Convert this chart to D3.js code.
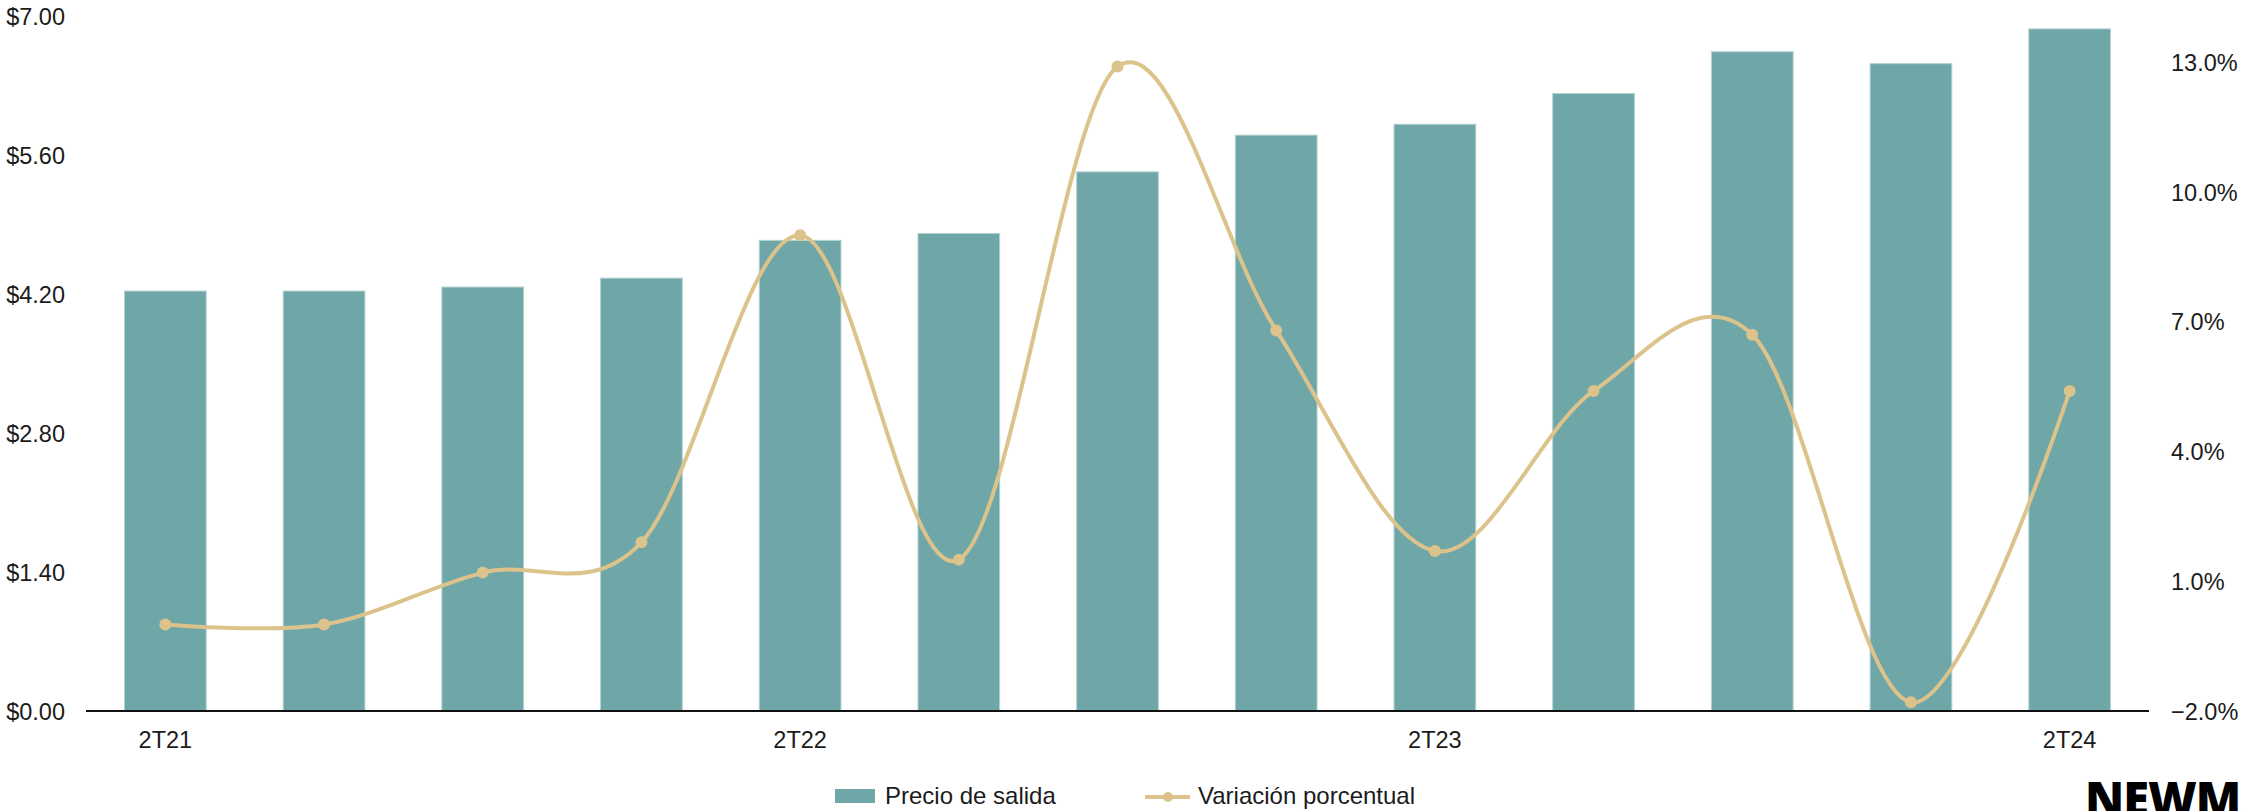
<!DOCTYPE html>
<html>
<head>
<meta charset="utf-8">
<script src="https://cdn.jsdelivr.net/npm/d3@7"></script>
<style>
  html, body { margin: 0; padding: 0; background: #fff; }
  svg { display: block; }
  text { font-family: "Liberation Sans", Arial, sans-serif; fill: #1b1b1b; }
</style>
</head>
<body>
<svg id="chart" width="2242" height="811"></svg>
<script>
// Quarterly asking price and quarter-over-quarter change
const quarters = ["2T21","3T21","4T21","1T22","2T22","3T22","4T22","1T23","2T23","3T23","4T23","1T24","2T24"];
const askingPrice = [4.23, 4.23, 4.27, 4.36, 4.74, 4.81, 5.43, 5.80, 5.91, 6.22, 6.64, 6.52, 6.87];
const pctChange = [0.0, 0.0, 1.2, 1.9, 9.0, 1.5, 12.9, 6.8, 1.7, 5.4, 6.7, -1.8, 5.4];
const leftTicks = [0, 1.4, 2.8, 4.2, 5.6, 7.0];
const rightTicks = [-2, 1, 4, 7, 10, 13];
const shownQuarters = ["2T21","2T22","2T23","2T24"];
const seriesNames = ["Precio de salida", "Variación porcentual"];

const barColor = "#6fa6a7";
const lineColor = "#dcc38c";

const svg = d3.select("#chart");
const plot = { left: 86, right: 2149, top: 16, bottom: 711 };

const x = d3.scaleBand()
  .domain(quarters)
  .range([plot.left, plot.right])
  .paddingInner(0.485)
  .paddingOuter(0.2425);

const yL = d3.scaleLinear().domain([0, 7]).range([plot.bottom, plot.top]);
const yR = d3.scaleLinear().domain([-2, 14]).range([plot.bottom, 19]);

// Bars
svg.append("g")
  .selectAll("rect")
  .data(quarters)
  .join("rect")
  .attr("x", d => x(d))
  .attr("y", (d, i) => yL(askingPrice[i]))
  .attr("width", x.bandwidth())
  .attr("height", (d, i) => yL(0) - yL(askingPrice[i]))
  .attr("fill", barColor)
  .attr("stroke", "#b4d2d2")
  .attr("stroke-width", 1);

// Left axis ($)
const leftAxis = d3.axisLeft(yL)
  .tickValues(leftTicks)
  .tickSize(0)
  .tickPadding(0)
  .tickFormat(d => "$" + d3.format(".2f")(d));
const gL = svg.append("g").attr("transform", "translate(65,0)").call(leftAxis);
gL.select(".domain").remove();
gL.selectAll("text").style("font-size", "23.5px").attr("fill", "#1b1b1b").attr("dy", "0.35em");

// Right axis (%)
const rightAxis = d3.axisRight(yR)
  .tickValues(rightTicks)
  .tickSize(0)
  .tickPadding(0)
  .tickFormat(d => d3.format(".1f")(d) + "%");
const gR = svg.append("g").attr("transform", "translate(2171,0)").call(rightAxis);
gR.select(".domain").remove();
gR.selectAll("text").style("font-size", "23.5px").attr("fill", "#1b1b1b").attr("dy", "0.35em");

// Bottom axis
const bottomAxis = d3.axisBottom(x)
  .tickValues(shownQuarters)
  .tickSize(0)
  .tickPadding(0);
const gB = svg.append("g").attr("transform", `translate(0,${plot.bottom})`).call(bottomAxis);
gB.select(".domain").remove();
gB.selectAll("text").style("font-size", "23.5px").attr("fill", "#1b1b1b").attr("dy", "0").attr("y", 37);

svg.append("line")
  .attr("x1", plot.left).attr("x2", plot.right)
  .attr("y1", plot.bottom).attr("y2", plot.bottom)
  .attr("stroke", "#111").attr("stroke-width", 2);

// Smoothed change line
const cx = d => x(d) + x.bandwidth() / 2;
const line = d3.line()
  .x(d => cx(d))
  .y((d, i) => yR(pctChange[i]))
  .curve(d3.curveCardinal.tension(0));

svg.append("path")
  .datum(quarters)
  .attr("d", line)
  .attr("fill", "none")
  .attr("stroke", lineColor)
  .attr("stroke-width", 4);

svg.append("g")
  .selectAll("circle")
  .data(quarters)
  .join("circle")
  .attr("cx", d => cx(d))
  .attr("cy", (d, i) => yR(pctChange[i]))
  .attr("r", 6)
  .attr("fill", lineColor);

// Legend
const legend = svg.append("g");
legend.append("rect")
  .attr("x", 835).attr("y", 789).attr("width", 40).attr("height", 14)
  .attr("fill", barColor);
legend.append("text")
  .attr("x", 885).attr("y", 804)
  .style("font-size", "24px")
  .text(seriesNames[0]);
legend.append("line")
  .attr("x1", 1145).attr("x2", 1190).attr("y1", 797).attr("y2", 797)
  .attr("stroke", lineColor).attr("stroke-width", 4);
legend.append("circle")
  .attr("cx", 1168).attr("cy", 797).attr("r", 5).attr("fill", lineColor);
legend.append("text")
  .attr("x", 1198).attr("y", 804)
  .style("font-size", "24px")
  .text(seriesNames[1]);

// Brand mark, partly off the bottom-right edge
svg.append("text")
  .attr("x", 2085).attr("y", 816)
  .style("font-family", "'Open Sans', Lato, sans-serif")
  .style("font-weight", "800")
  .style("font-size", "47px")
  .style("letter-spacing", "-1px")
  .style("fill", "#000")
  .text("NEWMARK");
</script>
</body>
</html>
